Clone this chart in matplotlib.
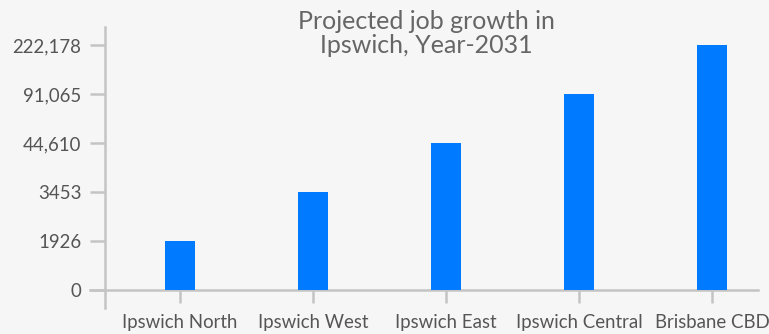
import numpy as np
import matplotlib.pyplot as plt

plt.rcParams['font.family'] = ['Lato', 'DejaVu Sans']

regions = ['Ipswich North', 'Ipswich West', 'Ipswich East', 'Ipswich Central', 'Brisbane CBD']
jobs = [1926, 3453, 44610, 91065, 222178]
ytick_vals = [0, 1926, 3453, 44610, 91065, 222178]
ytick_labels = ['0', '1926', '3453', '44,610', '91,065', '222,178']

tv = np.array(ytick_vals, dtype=float)
ti = np.arange(len(tv), dtype=float)

# piecewise scale: each tick value gets an equal step, linear past the ends
def fwd(v):
    v = np.asarray(v, dtype=float)
    out = np.interp(v, tv, ti)
    lo = v < tv[0]
    hi = v > tv[-1]
    out = np.where(lo, (v - tv[0]) / (tv[1] - tv[0]), out)
    out = np.where(hi, ti[-1] + (v - tv[-1]) / (tv[-1] - tv[-2]), out)
    return out

def inv(i):
    i = np.asarray(i, dtype=float)
    out = np.interp(i, ti, tv)
    out = np.where(i < 0, tv[0] + i * (tv[1] - tv[0]), out)
    out = np.where(i > ti[-1], tv[-1] + (i - ti[-1]) * (tv[-1] - tv[-2]), out)
    return out

grey = '#c4c4c4'
txt = '#555555'

fig = plt.figure(figsize=(7.69, 3.34), dpi=100, facecolor='#f6f6f6')
ax = fig.add_axes([90 / 769, 1 - 308 / 334, 668 / 769, 281 / 334])
ax.set_facecolor('none')
ax.set_yscale('function', functions=(fwd, inv))

x = np.arange(len(regions))
ax.bar(x, jobs, width=0.225, color='#007bff', zorder=3)

ax.set_xlim(-0.677, 4.346)
ax.set_ylim(float(inv(-0.37)), float(inv(5.37)))

ax.set_yticks(ytick_vals)
ax.set_yticklabels(ytick_labels)
ax.set_xticks(x)
ax.set_xticklabels(regions)
ax.minorticks_off()

for s in ['top', 'right']:
    ax.spines[s].set_visible(False)
ax.spines['left'].set_position(('data', -0.564))
ax.spines['bottom'].set_position(('data', 0))
ax.spines['left'].set_color(grey)
ax.spines['bottom'].set_color(grey)
ax.spines['left'].set_linewidth(1.8)
ax.spines['bottom'].set_linewidth(1.8)

ax.tick_params(axis='y', length=11, width=1.8, color=grey, labelcolor=txt, labelsize=13.4, pad=6)
ax.tick_params(axis='x', length=9.5, width=1.8, color=grey, labelcolor=txt, labelsize=13.4, pad=8)

fig.text(426 / 769, 1 - 10 / 334, 'Projected job growth in\nIpswich, Year-2031', fontsize=18,
         color='#666666', ha='center', va='top', linespacing=1.05)

fig.savefig('out.png', dpi=100, facecolor=fig.get_facecolor())
